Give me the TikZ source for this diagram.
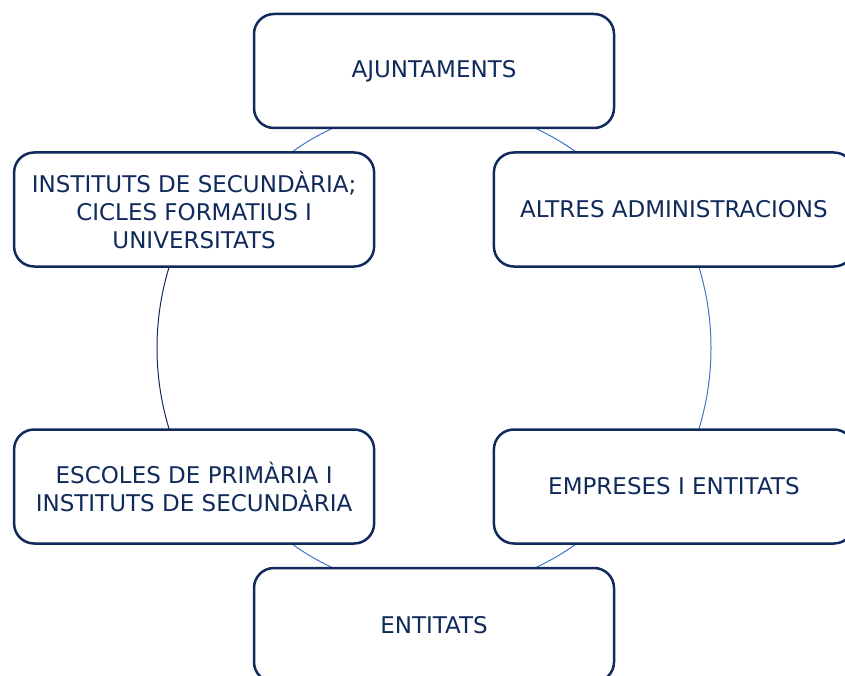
\documentclass[tikz,border=0pt]{standalone}
\usepackage{fontspec}
\setmainfont{DejaVu Sans}
\usetikzlibrary{backgrounds}
\definecolor{navy}{HTML}{102A5C}
\definecolor{linkblue}{HTML}{4472C4}

\begin{document}
\begin{tikzpicture}[x=1pt,y=1pt,
	box/.style={draw=navy,line width=2.5pt,rounded corners=20pt,fill=white,text=navy,
		minimum width=360pt,minimum height=114pt,align=center,
		font=\fontsize{23}{28}\selectfont},
	link/.style={draw=linkblue,line width=1pt}]
	\useasboundingbox (0,0) rectangle (845,-676);
	\coordinate (c) at (434,-348);
	\node[box] (ajunt) at ([shift={(90:277pt)}]c) {AJUNTAMENTS};
	\node[box] (inst) at ([shift={(150:277pt)}]c) {INSTITUTS DE SECUNDÀRIA;\\CICLES FORMATIUS I\\UNIVERSITATS};
	\node[box] (escoles) at ([shift={(210:277pt)}]c) {ESCOLES DE PRIMÀRIA I\\INSTITUTS DE SECUNDÀRIA};
	\node[box] (entitats) at ([shift={(270:277pt)}]c) {ENTITATS};
	\node[box] (empreses) at ([shift={(330:277pt)}]c) {EMPRESES I ENTITATS};
	\node[box] (altres) at ([shift={(30:277pt)}]c) {ALTRES ADMINISTRACIONS};
	% links behind the boxes
	\begin{scope}[on background layer]
	\draw[link] ([yshift=-35pt]ajunt.center) arc[start angle=90,end angle=150,radius=242pt];
	\draw[link] ([yshift=-35pt]ajunt.center) arc[start angle=90,end angle=30,radius=242pt];
	\draw[link,draw=navy] (inst.center) arc[start angle=150,end angle=210,radius=277pt];
	\draw[link] (empreses.center) arc[start angle=330,end angle=390,radius=277pt];
	\draw[link] ([yshift=35pt]entitats.center) arc[start angle=270,end angle=210,radius=242pt];
	\draw[link] ([yshift=35pt]entitats.center) arc[start angle=270,end angle=330,radius=242pt];
	\end{scope}
\end{tikzpicture}
\end{document}
